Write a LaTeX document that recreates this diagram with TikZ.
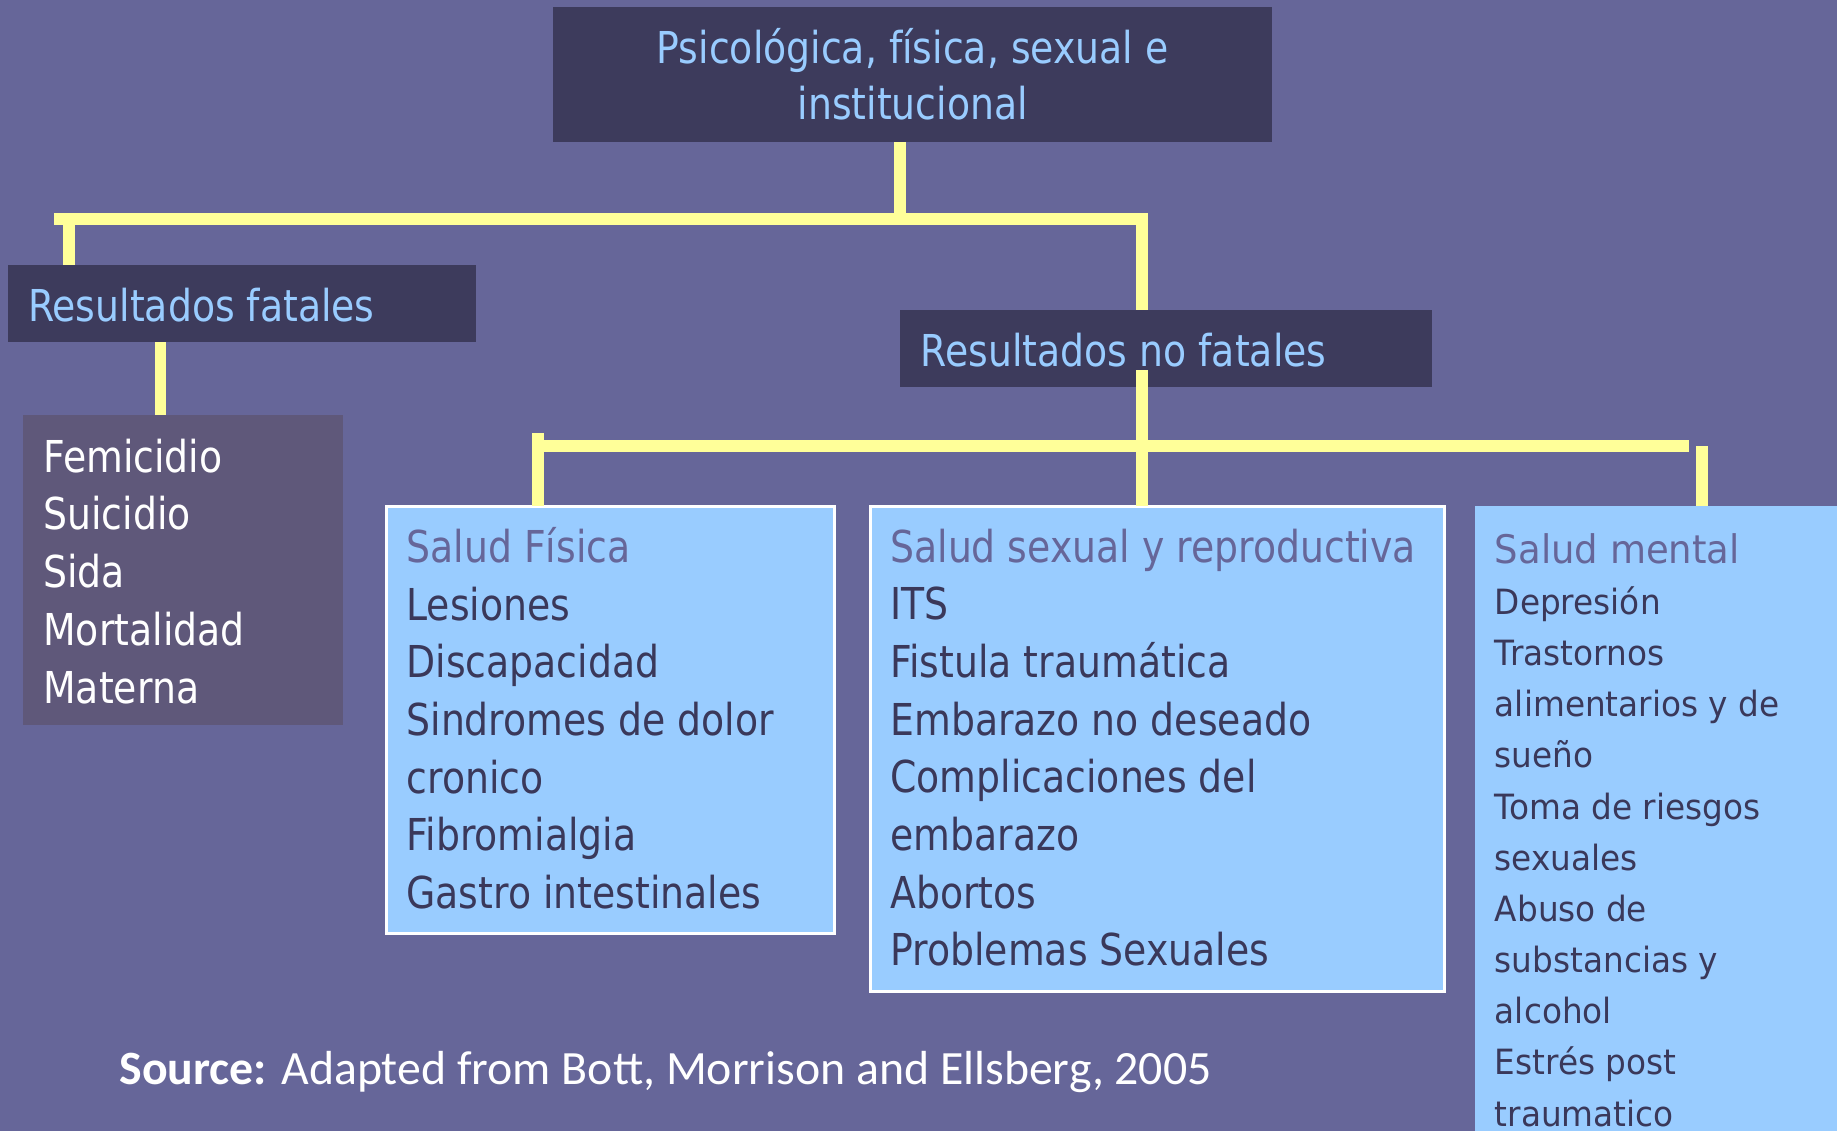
\documentclass[tikz,border=0pt]{standalone}
\usepackage{fontspec}
\newfontfamily\boxfont[FakeStretch=0.86]{DejaVu Sans}
\newfontfamily\mentalfont[FakeStretch=0.94]{DejaVu Sans}
\newfontfamily\srcfont{Carlito}
\usepackage{tikz}
\definecolor{bgpurple}{RGB}{102,102,153}
\definecolor{darkbox}{RGB}{61,59,92}
\definecolor{listpurple}{RGB}{95,88,122}
\definecolor{skyblue}{RGB}{153,204,255}
\definecolor{itemnavy}{RGB}{58,56,90}
\definecolor{paleyellow}{RGB}{255,255,153}

\begin{document}
\begin{tikzpicture}
[x=0.33333pt, y=-0.33333pt,
 every node/.style={inner sep=0pt, outer sep=0pt},
 panel/.style 2 args={minimum width=#1*0.33333pt, minimum height=#2*0.33333pt, anchor=north west},
 headbox/.style={fill=darkbox},
 listbox/.style={fill=listpurple},
 healthbox/.style={fill=skyblue, draw=white, line width=0.8pt},
 txt/.style={anchor=base west, font=\boxfont\fontsize{12.5}{15}\selectfont},
 mtxt/.style={anchor=base west, font=\mentalfont\fontsize{9.9}{12}\selectfont, text=itemnavy},
 yline/.style={draw=paleyellow, line width=3.4pt}]
\useasboundingbox (0,0) rectangle (1568,965);
\fill[bgpurple] (0,0) rectangle (1568,965);

% Define the boxes
\node[headbox, panel={614}{115}] (top) at (472,6) {};
\node[headbox, panel={399}{66}] (fatal) at (7,226) {};
\node[listbox, panel={273}{265}] (fatallist) at (20,354) {};
\node[headbox, panel={454}{65}] (nofatal) at (768,265) {};
\node[healthbox, panel={382}{365}] (fisica) at (330,432) {};
\node[healthbox, panel={490}{414}] (sexual) at (743,432) {};
\node[fill=skyblue, panel={309}{533}] (mental) at (1259,432) {};

% Texts
\node[txt, text=skyblue, anchor=base] (top1) at (779,54) {Psicológica, física, sexual e};
\node[txt, text=skyblue, anchor=base] (top2) at (779,102) {institucional};
\node[txt, text=skyblue] (fataltxt) at (24,274) {Resultados fatales};
\node[txt, text=skyblue] (nofataltxt) at (786,313) {Resultados no fatales};

\foreach \w [count=\i from 0] in {Femicidio,Suicidio,Sida,Mortalidad,Materna}
  \node[txt, text=white] (fat\i) at (37,{403+49.35*\i}) {\w};

\node[txt, text=bgpurple] (fis0) at (347,480) {Salud Física};
\foreach \w [count=\i] in {Lesiones,Discapacidad,Sindromes de dolor,cronico,Fibromialgia,Gastro intestinales}
  \node[txt, text=itemnavy] (fis\i) at (347,{480+49.25*\i}) {\w};

\node[txt, text=bgpurple] (sex0) at (760,480) {Salud sexual y reproductiva};
\foreach \w [count=\i] in {ITS,Fistula traumática,Embarazo no deseado,Complicaciones del,embarazo,Abortos,Problemas Sexuales}
  \node[txt, text=itemnavy] (sex\i) at (760,{480+49.2*\i}) {\w};

\node[mtxt, text=bgpurple, font=\mentalfont\fontsize{11.2}{14}\selectfont] (men0) at (1276,481) {Salud mental};
\foreach \w [count=\i from 0] in {Depresión,Trastornos,alimentarios y de,sueño,Toma de riesgos,sexuales,Abuso de,substancias y,alcohol,Estrés post,traumatico}
  \node[mtxt] (men\i) at (1276,{524.5+43.67*\i}) {\w};

\node[anchor=base west, text=white, font=\srcfont\fontsize{13.6}{16}\selectfont] (src) at (102,926)
  {\textbf{Source:} Adapted from Bott, Morrison and Ellsberg, 2005};

% Connectors
\coordinate (b1w) at (46,187);
\coordinate (b1e) at (975,187);
\coordinate (b1t) at (768,187);
\coordinate (b1f) at (59,187);
\coordinate (fd) at (137,0);
\coordinate (b2w) at (455,381);
\coordinate (b2e) at (1442,381);
\coordinate (b2c) at (975,381);
\coordinate (b2f) at (459,370);
\coordinate (b2m) at (1452.7,381);

\draw[yline] (top.south -| b1t) -- (b1t);
\draw[yline] (b1w) -- (b1e) -- (b1e |- nofatal.north);
\draw[yline] (b1f) -- (b1f |- fatal.north);
\draw[yline] (fd |- fatal.south) -- (fd |- fatallist.north);
\draw[yline] ([yshift=4.7pt]nofatal.south -| b2c) -- (b2c |- sexual.north);
\draw[yline] (b2w) -- (b2e);
\draw[yline] (b2f) -- (b2f |- fisica.north);
\draw[yline] (b2m) -- (b2m |- mental.north);
\end{tikzpicture}
\end{document}
